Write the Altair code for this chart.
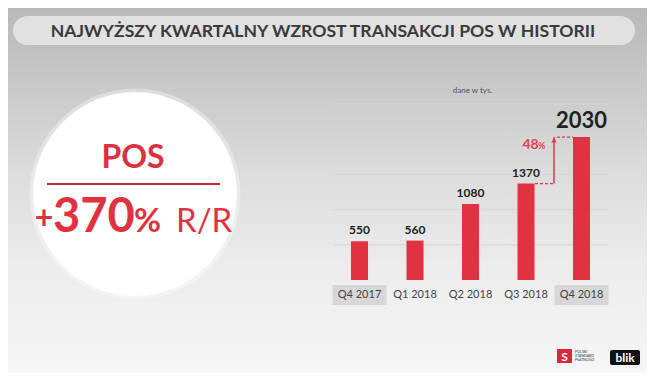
import altair as alt
import pandas as pd

# ---- data ----
quarters = ["Q4 2017", "Q1 2018", "Q2 2018", "Q3 2018", "Q4 2018"]
values = [550, 560, 1080, 1370, 2030]
highlight = [True, False, False, False, True]
grid_values = [500, 1000, 1500, 2000, 2500]
title_text = "NAJWYŻSZY KWARTALNY WZROST TRANSAKCJI POS W HISTORII"
unit_note = "dane w tys."
growth_pct = round((values[4] / values[3] - 1) * 100)

W, H = 639, 365
FONT = "Lato"
RED = "#e1323f"
DARK = "#222222"

df = pd.DataFrame({"q": quarters, "v": values, "hl": highlight})
grid_df = pd.DataFrame({"g": grid_values})
one = pd.DataFrame({"a": [0]})

xscale = alt.Scale(domain=quarters, range=[323.75, 601.25], paddingInner=0, paddingOuter=0)
yscale = alt.Scale(domain=[0, 2500], range=[272, 96], nice=False, zero=True)


def X(f="q"):
    return alt.X(f, type="nominal", scale=xscale, axis=None, sort=quarters)


def Y(f):
    return alt.Y(f, type="quantitative", scale=yscale, axis=None)


base1 = alt.Chart(one)

# background gradient
bg = base1.mark_rect(
    color=alt.Gradient(
        gradient="linear",
        stops=[
            alt.GradientStop(color="#b8b8b8", offset=0),
            alt.GradientStop(color="#c6c6c6", offset=0.18),
            alt.GradientStop(color="#dcdcdc", offset=0.45),
            alt.GradientStop(color="#ececec", offset=0.7),
            alt.GradientStop(color="#f6f6f6", offset=1),
        ],
        x1=0, x2=0, y1=0, y2=1,
    )
).encode(x=alt.value(0), x2=alt.value(W), y=alt.value(0), y2=alt.value(H))

# title pill
pill = base1.mark_rect(color="#e1e1e1", cornerRadius=14.5).encode(
    x=alt.value(5), x2=alt.value(627), y=alt.value(8), y2=alt.value(37)
)
title = base1.mark_text(
    text=title_text, font=FONT, fontWeight="bold", fontSize=17.6, color="#3a3a3a",
    align="center", baseline="alphabetic"
).encode(x=alt.value(315), y=alt.value(29))

# circle
glow = base1.mark_circle(color="#ffffff", opacity=0.35, size=3.1416 * 119 ** 2).encode(
    x=alt.value(127), y=alt.value(186)
)
circle = base1.mark_circle(color="#ffffff", opacity=1, size=3.1416 * 115 ** 2).encode(
    x=alt.value(127), y=alt.value(186)
)
pos_txt = base1.mark_text(
    text="POS", font=FONT, fontWeight="bold", fontSize=32, color="#d93240",
    align="center", baseline="alphabetic"
).encode(x=alt.value(125), y=alt.value(160))
sep = base1.mark_rule(color="#c0283a", strokeWidth=2).encode(
    x=alt.value(39), x2=alt.value(212), y=alt.value(176)
)
plus = base1.mark_text(
    text="+", font=FONT, fontWeight="bold", fontSize=32, color="#d93240",
    align="center", baseline="alphabetic"
).encode(x=alt.value(36), y=alt.value(221))
big = base1.mark_text(
    text="370", font=FONT, fontWeight="bold", fontSize=47, color="#e1323f",
    align="left", baseline="alphabetic"
).encode(x=alt.value(45), y=alt.value(224))
pct = base1.mark_text(
    text="%", font=FONT, fontWeight="bold", fontSize=33, color="#e1323f",
    align="left", baseline="alphabetic"
).encode(x=alt.value(126), y=alt.value(224))
rr = base1.mark_text(
    text="R/R", font=FONT, fontWeight="normal", fontSize=33, color="#e1323f",
    align="left", baseline="alphabetic"
).encode(x=alt.value(168), y=alt.value(224))

# grid lines
grid = alt.Chart(grid_df).mark_rule(color="#d6d6d6", strokeWidth=1).encode(
    y=Y("g"), x=alt.value(325), x2=alt.value(600)
)

note = base1.mark_text(
    text=unit_note, font=FONT, fontSize=8, color="#555555", align="center", baseline="middle"
).encode(x=alt.value(464.5), y=alt.value(83))

base = alt.Chart(df)

boxes = base.transform_filter("datum.hl").mark_bar(size=54, color="#d7d7d7").encode(
    x=X(), y=alt.value(277), y2=alt.value(297)
)
xlabels = base.mark_text(font=FONT, fontSize=11, color="#444444", baseline="middle").encode(
    x=X(), y=alt.value(287), text="q:N"
)
bars = base.mark_bar(size=17, color=RED).encode(x=X(), y=Y("v"), y2=alt.datum(0))
vlabels = base.transform_filter("datum.q != '%s'" % quarters[-1]).mark_text(
    font=FONT, fontWeight="bold", fontSize=12, color=DARK, baseline="alphabetic", dy=-7
).encode(x=X(), y=Y("v"), text="v:Q")
vbig = base.transform_filter("datum.q == '%s'" % quarters[-1]).mark_text(
    font=FONT, fontWeight="bold", fontSize=22, color=DARK, baseline="alphabetic", dy=-9
).encode(x=X(), y=Y("v"), text="v:Q")

# growth arrow
lo = pd.DataFrame({"v": [values[3]]})
hi = pd.DataFrame({"v": [values[4]]})
span = pd.DataFrame({"v": [values[3]], "v2": [values[4]]})
ARC = "#e0394a"
d1 = alt.Chart(lo).mark_rule(color=ARC, strokeWidth=1.2, strokeDash=[3, 2]).encode(
    y=Y("v"), x=alt.value(527), x2=alt.value(546)
)
d2 = alt.Chart(hi).mark_rule(color=ARC, strokeWidth=1.2, strokeDash=[3, 2]).encode(
    y=Y("v"), x=alt.value(549), x2=alt.value(565)
)
vert = alt.Chart(span).mark_rule(color=ARC, strokeWidth=1.5).encode(
    y=Y("v"), y2="v2:Q", x=alt.value(546)
)
head = alt.Chart(hi).mark_point(shape="triangle-up", filled=True, color=ARC, size=28, opacity=1, yOffset=3).encode(
    y=Y("v"), x=alt.value(546)
)
g_txt = base1.mark_text(
    text=str(growth_pct), font=FONT, fontWeight="bold", fontSize=14, color="#e2424f",
    align="left", baseline="alphabetic"
).encode(x=alt.value(514.5), y=alt.value(141))
g_pct = base1.mark_text(
    text="%", font=FONT, fontWeight="bold", fontSize=9, color="#e2424f",
    align="left", baseline="alphabetic"
).encode(x=alt.value(530), y=alt.value(141))

# logos
psp = base1.mark_rect(color="#d9283a").encode(
    x=alt.value(549), x2=alt.value(564), y=alt.value(341), y2=alt.value(355)
)
psp_g = base1.mark_text(text="S", font=FONT, fontWeight="bold", fontSize=12, color="#ffffff",
                        align="center", baseline="middle").encode(x=alt.value(556.5), y=alt.value(348.5))
psp_t = alt.Chart(pd.DataFrame({"t": ["POLSKI", "STANDARD", "PŁATNOŚCI"], "yy": [344, 348, 352]})).mark_text(
    font=FONT, fontSize=3.6, color="#333333", align="left", baseline="middle"
).encode(x=alt.value(567), y=alt.Y("yy:Q", scale=None, axis=None), text="t:N")
blik = base1.mark_rect(color="#111111", cornerRadius=2).encode(
    x=alt.value(602), x2=alt.value(632), y=alt.value(342), y2=alt.value(357)
)
blik_t = base1.mark_text(text="blik", font=FONT, fontWeight="bold", fontSize=12, color="#ffffff",
                         align="center", baseline="middle").encode(x=alt.value(617), y=alt.value(349.5))

chart = alt.layer(
    bg, pill, title, glow, circle, pos_txt, sep, plus, big, pct, rr,
    grid, note, boxes, xlabels, bars, vlabels, vbig,
    d1, d2, vert, head, g_txt, g_pct,
    psp, psp_g, psp_t, blik, blik_t,
).properties(width=W, height=H, padding=0, autosize="none").configure_view(strokeWidth=0)

chart.save("out.html", embed_options={"renderer": "svg", "actions": False})
